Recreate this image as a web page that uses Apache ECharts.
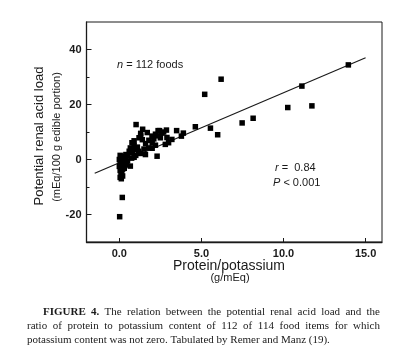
<!DOCTYPE html>
<html>
<head>
<meta charset="utf-8">
<script src="https://cdn.jsdelivr.net/npm/echarts@6/dist/echarts.min.js"></script>
<style>
html,body{margin:0;padding:0;background:#fff;}
#c{width:400px;height:363px;}
</style>
</head>
<body>
<div id="c"></div>
<script>
// ---- data ----
var xTicks = [0, 5, 10, 15];
var yTicks = [-20, 0, 20, 40];
var yMinorTicks = [-10, 10, 30];
var foods = [
  [0.02,-20.8],[0.18,-13.8],
  [4.63,11.9],[5.55,11.4],[5.99,9.0],[5.20,23.7],[6.20,29.2],[7.48,13.3],[8.15,15.0],
  [10.26,18.9],[11.12,26.7],[11.73,19.5],[13.95,34.4],
  [1.02,12.7],[1.42,11.0],[1.3,9.5],[2.36,10.5],[2.87,10.7],[3.49,10.5],[3.78,8.5],[3.0,6.1],
  [2.5,7.9],[1.99,8.5],[2.2,9.2],[2.6,9.6],[2.7,10.0],[2.4,8.6],[2.1,7.5],[1.8,7.0],[2.0,6.0],
  [1.6,5.8],[1.4,7.2],[1.2,7.9],[0.77,6.1],[0.67,4.2],[0.9,5.0],[1.1,4.5],[1.0,3.6],[1.79,4.2],
  [2.3,1.2],[1.59,1.8],[1.18,3.0],[0.8,2.5],[0.6,3.0],[0.5,1.5],[0.37,0.6],[0.67,-2.4],[0.9,0.8],
  [1.3,2.2],[1.5,3.8],[2.2,5.2],[2.8,5.5],[3.2,7.3],[3.9,9.6],[2.9,8.0],[1.7,9.8],[1.3,8.5],
  [0.9,6.8],[2.0,4.1],[1.0,1.5],[0.75,0.5],[2.45,10.5],
  [0.05,1.5],[0.1,0.8],[0.15,1.2],[0.2,0.4],[0.25,1.0],[0.0,0.0],[0.1,-0.5],[0.2,-1.0],[0.3,-0.2],
  [0.05,-1.5],[0.15,-2.0],[0.25,-2.5],[0.1,-3.0],[0.2,-3.5],[0.05,-4.0],[0.15,-4.5],[0.1,-5.5],
  [0.2,-6.0],[0.05,-6.5],[0.3,-1.5],[0.35,0.2],[0.4,-0.8],[0.0,-2.5],[0.3,-3.2],[0.12,-7.0],
  [0.45,-2.0],[0.5,-0.5],[0.4,1.8]
];
var fitLine = [[-1.5,-5.0],[15.0,37.0]];
var xTitle = 'Protein/potassium';
var xUnit = '(g/mEq)';
var yTitle = 'Potential renal acid load';
var yUnit = '(mEq/100 g edible portion)';
var captionLines = [
  'FIGURE 4. The relation between the potential renal acid load and the',
  'ratio of protein to potassium content of 112 of 114 food items for which',
  'potassium content was not zero. Tabulated by Remer and Manz (19).'
];

var ink = '#1a1a1a';
var sans = '"Liberation Sans", Arial, sans-serif';
var serif = '"Liberation Serif", "Times New Roman", serif';

var chart = echarts.init(document.getElementById('c'));
var graphics = [
  {type:'text', x:39, y:136, rotation:Math.PI/2,
   style:{text:yTitle, font:'13px '+sans, fill:ink, textAlign:'center', textVerticalAlign:'middle'}},
  {type:'text', x:57, y:137, rotation:Math.PI/2,
   style:{text:yUnit, font:'11px '+sans, fill:ink, textAlign:'center', textVerticalAlign:'middle'}},
  {type:'text', x:229, y:266,
   style:{text:xTitle, font:'14px '+sans, fill:ink, textAlign:'center', textVerticalAlign:'middle'}},
  {type:'text', x:230, y:278,
   style:{text:xUnit, font:'11px '+sans, fill:ink, textAlign:'center', textVerticalAlign:'middle'}},
  {type:'text', x:117, y:65,
   style:{text:'{i|n} = 112 foods', font:'11px '+sans, fill:ink, textVerticalAlign:'middle',
     rich:{i:{font:'italic 11px '+sans, fill:ink}}}},
  {type:'text', x:275, y:168,
   style:{text:'{i|r} =  0.84', font:'11px '+sans, fill:ink, textVerticalAlign:'middle',
     rich:{i:{font:'italic 11px '+sans, fill:ink}}}},
  {type:'text', x:273, y:183,
   style:{text:'{i|P} < 0.001', font:'11px '+sans, fill:ink, textVerticalAlign:'middle',
     rich:{i:{font:'italic 11px '+sans, fill:ink}}}}
];

// caption: lines 1 and 2 justified between left indent and right edge
var mctx = document.createElement('canvas').getContext('2d');
var capFont = '11px ' + serif, capBold = 'bold 11px ' + serif;
var capSpec = [{x0:43, x1:380, just:true}, {x0:27, x1:380, just:true}, {x0:27, x1:null, just:false}];
captionLines.forEach(function(line, li){
  var words = line.split(' ');
  var fonts = words.map(function(w, wi){ return (li === 0 && wi < 2) ? capBold : capFont; });
  var widths = words.map(function(w, wi){ mctx.font = fonts[wi]; return mctx.measureText(w).width; });
  mctx.font = capFont;
  var space = mctx.measureText(' ').width;
  var spec = capSpec[li];
  if (spec.just) {
    var total = widths.reduce(function(a,b){return a+b;}, 0);
    space = (spec.x1 - spec.x0 - total) / (words.length - 1);
  }
  var x = spec.x0;
  words.forEach(function(w, wi){
    graphics.push({type:'text', x:x, y:312 + li*14,
      style:{text:w, font:fonts[wi], fill:ink, textVerticalAlign:'middle'}});
    x += widths[wi] + space;
  });
});

chart.setOption({
  animation:false,
  backgroundColor:'#fff',
  grid:{left:86.5, top:22, right:18, bottom:121, show:true, borderColor:ink, borderWidth:1, backgroundColor:'transparent'},
  xAxis:{
    type:'value', min:-2, max:16,
    axisLine:{show:true, onZero:false, lineStyle:{color:ink, width:1.3}},
    axisTick:{show:true, inside:true, length:4, customValues:xTicks, lineStyle:{color:ink}},
    axisLabel:{customValues:xTicks, formatter:function(v){return v.toFixed(1);}, color:ink,
      fontFamily:sans, fontSize:11, fontWeight:'bold', margin:6},
    splitLine:{show:false}
  },
  yAxis:[{
    type:'value', min:-30, max:50,
    axisLine:{show:true, onZero:false, lineStyle:{color:ink, width:1.3}},
    axisTick:{show:true, inside:true, length:5, customValues:yTicks, lineStyle:{color:ink}},
    axisLabel:{customValues:yTicks, color:ink, fontFamily:sans, fontSize:11, fontWeight:'bold', margin:5},
    splitLine:{show:false}
  },{
    type:'value', min:-30, max:50, position:'left',
    axisLine:{show:false, onZero:false},
    axisTick:{show:true, inside:true, length:3, customValues:yMinorTicks, lineStyle:{color:ink}},
    axisLabel:{show:false},
    splitLine:{show:false}
  }],
  series:[
    {type:'line', data:fitLine, showSymbol:false, symbol:'none', lineStyle:{color:ink, width:1.2}, z:2},
    {type:'scatter', data:foods, symbol:'rect', symbolSize:5.5, itemStyle:{color:'#000', opacity:1}, z:3}
  ],
  graphic:graphics
});
</script>
</body>
</html>
